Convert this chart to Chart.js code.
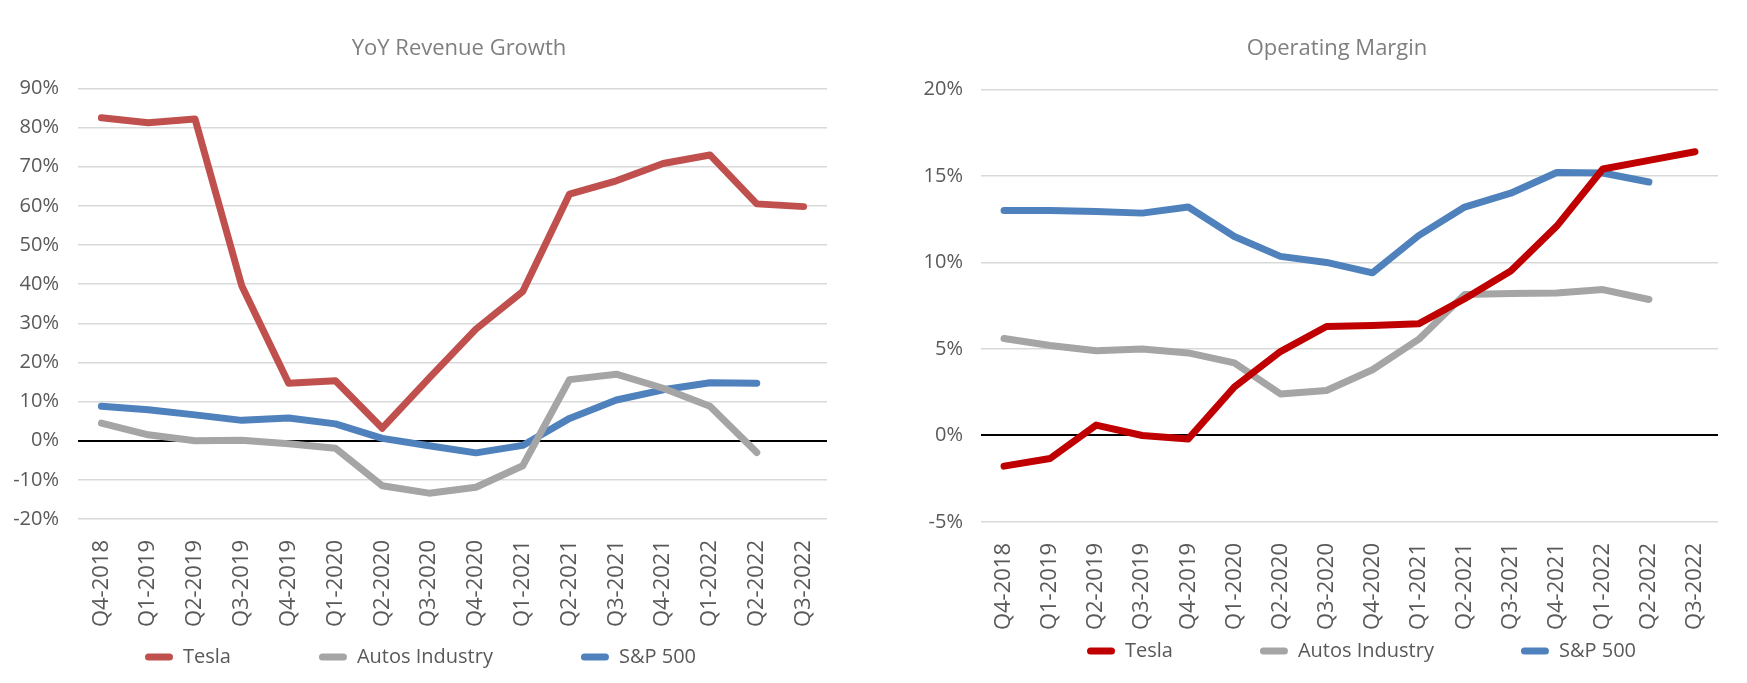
<!DOCTYPE html>
<html>
  <head>
    <script src="https://cdn.jsdelivr.net/npm/chart.js"></script>
    <style>
      body { margin: 0; background: #fff; overflow: hidden; }
      .panel { position: absolute; top: 0; height: 683px; }
      #left { left: 0; width: 870px; }
      #right { left: 870px; width: 877px; }
    </style>
  </head>
  <body>
    <div class="panel" id="left"><canvas id="revenue-chart"></canvas></div>
    <div class="panel" id="right"><canvas id="margin-chart"></canvas></div>
    <script>
      var quarters = ['Q4-2018', 'Q1-2019', 'Q2-2019', 'Q3-2019', 'Q4-2019', 'Q1-2020', 'Q2-2020', 'Q3-2020',
                      'Q4-2020', 'Q1-2021', 'Q2-2021', 'Q3-2021', 'Q4-2021', 'Q1-2022', 'Q2-2022', 'Q3-2022'];
      var seriesNames = ['Tesla', 'Autos Industry', 'S&P 500'];

      // YoY revenue growth, %
      var revTesla = [82.5, 81.2, 82.2, 39.5, 14.7, 15.3, 3.2, 16.0, 28.5, 38.1, 63.0, 66.4, 70.8, 73.0, 60.5, 59.8];
      var revAutos = [4.5, 1.5, 0.0, 0.1, -0.8, -1.9, -11.5, -13.4, -11.9, -6.4, 15.6, 17.0, 13.4, 8.8, -3.0, null];
      var revSP = [8.8, 7.9, 6.6, 5.2, 5.8, 4.3, 0.6, -1.3, -3.1, -1.2, 5.7, 10.4, 13.0, 14.8, 14.7, null];

      // Operating margin, %
      var omTesla = [-1.77, -1.33, 0.6, 0.0, -0.2, 2.8, 4.85, 6.3, 6.36, 6.45, 7.9, 9.5, 12.1, 15.4, 15.9, 16.4];
      var omAutos = [5.6, 5.2, 4.9, 5.0, 4.77, 4.2, 2.4, 2.6, 3.8, 5.55, 8.15, 8.2, 8.24, 8.43, 7.86, null];
      var omSP = [13.0, 13.0, 12.95, 12.85, 13.2, 11.5, 10.35, 10.0, 9.4, 11.55, 13.2, 14.0, 15.2, 15.17, 14.65, null];

      var revTicks = { min: -20, max: 90, step: 10 };
      var omTicks = { min: -5, max: 20, step: 5 };

      Chart.defaults.font.family = "'Open Sans', sans-serif";
      Chart.defaults.color = '#595959';

      // moves title and legend to fixed spots without changing the plot area
      var placeBoxes = {
        id: 'placeBoxes',
        afterLayout: function(chart, args, opts) {
          var t = chart.titleBlock;
          if (t) {
            var dx = opts.titleX - (t.left + t.right) / 2;
            t.left += dx; t.right += dx;
          }
          var lg = chart.legend;
          if (lg) {
            var pad = lg.options.labels.padding;
            var mx = opts.legendX - pad - lg.left;
            lg.left += mx; lg.right += mx;
            lg.top = opts.legendY - pad - opts.legendFont / 2;
            lg.bottom = lg.top + pad + opts.legendFont + 10;
            lg.height = lg.bottom - lg.top;
          }
        }
      };

      function lineSet(label, data, color) {
        return {
          label: label,
          data: data,
          borderColor: color,
          backgroundColor: color,
          borderWidth: 7,
          pointRadius: 0,
          tension: 0,
          borderCapStyle: 'round',
          borderJoinStyle: 'round',
          spanGaps: false
        };
      }

      function makeChart(id, cfg) {
        var ctx = document.getElementById(id).getContext('2d');
        return new Chart(ctx, {
          type: 'line',
          data: {
            labels: quarters,
            datasets: [
              lineSet(seriesNames[0], cfg.data[0], cfg.colors[0]),
              lineSet(seriesNames[1], cfg.data[1], cfg.colors[1]),
              lineSet(seriesNames[2], cfg.data[2], cfg.colors[2])
            ]
          },
          options: {
            responsive: true,
            maintainAspectRatio: false,
            animation: false,
            layout: { padding: { left: 0, right: cfg.padRight, top: 0, bottom: 0 } },
            scales: {
              x: {
                offset: true,
                grid: { display: false },
                border: { display: false },
                ticks: {
                  autoSkip: false, maxRotation: 90, minRotation: 90,
                  padding: 13, color: '#595959', font: { size: 22 }
                },
                afterFit: function(scale) { scale.height = cfg.xHeight; }
              },
              y: {
                min: cfg.ticks.min,
                max: cfg.ticks.max,
                border: { display: false },
                grid: {
                  drawTicks: false,
                  color: function(c) { return c.tick.value === 0 ? '#000000' : '#D9D9D9'; },
                  lineWidth: function(c) { return c.tick.value === 0 ? 2 : 1.5; }
                },
                ticks: {
                  stepSize: cfg.ticks.step,
                  padding: cfg.yPad,
                  color: '#595959',
                  font: { size: 20 },
                  callback: function(v) { return v + '%'; }
                },
                afterFit: function(scale) { scale.width = cfg.yWidth; }
              }
            },
            plugins: {
              title: {
                display: true,
                text: cfg.title,
                color: '#7F7F7F',
                font: { size: 22, weight: 'normal' },
                padding: { top: 36, bottom: cfg.titleBottom }
              },
              legend: {
                position: 'bottom',
                align: 'start',
                maxHeight: 40,
                labels: {
                  boxWidth: 28,
                  boxHeight: 7,
                  useBorderRadius: true,
                  borderRadius: 3.5,
                  padding: cfg.legendPad,
                  color: '#595959',
                  font: { size: 20 },
                  generateLabels: function(chart) {
                    return Chart.defaults.plugins.legend.labels.generateLabels(chart).map(function(it) {
                      it.lineWidth = 0;
                      return it;
                    });
                  }
                }
              },
              tooltip: { enabled: false },
              placeBoxes: { titleX: cfg.titleX, legendX: cfg.legendX, legendY: cfg.legendY, legendFont: 20 }
            }
          },
          plugins: [placeBoxes]
        });
      }

      makeChart('revenue-chart', {
        title: 'YoY Revenue Growth',
        data: [revTesla, revAutos, revSP],
        colors: ['#C0504D', '#A5A5A5', '#4F81BD'],
        ticks: revTicks,
        padRight: 43, yWidth: 78, yPad: 19, xHeight: 124, titleBottom: 26,
        titleX: 459, legendX: 145, legendY: 657, legendPad: 88
      });

      makeChart('margin-chart', {
        title: 'Operating Margin',
        data: [omTesla, omAutos, omSP],
        colors: ['#C00000', '#A5A5A5', '#4F81BD'],
        ticks: omTicks,
        padRight: 29, yWidth: 111, yPad: 18, xHeight: 121, titleBottom: 27,
        titleX: 467, legendX: 217, legendY: 651, legendPad: 87
      });
    </script>
  </body>
</html>
